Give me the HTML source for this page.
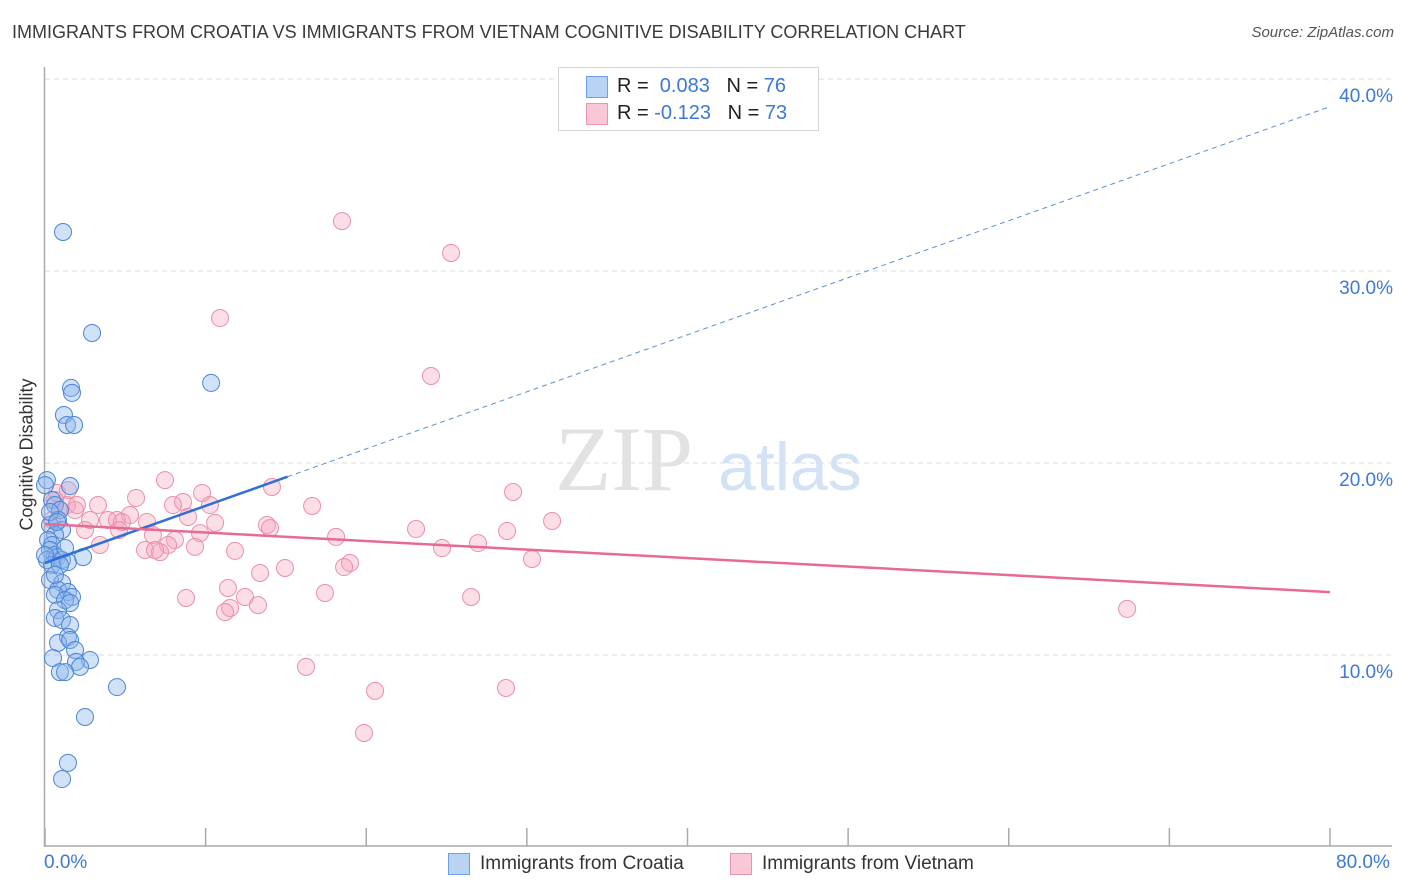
<!DOCTYPE html>
<html><head><meta charset="utf-8">
<style>
body{margin:0;background:#fff;font-family:"Liberation Sans",sans-serif;}
#wrap{position:relative;width:1406px;height:892px;overflow:hidden;}
.t{position:absolute;white-space:nowrap;}
</style></head>
<body>
<div id="wrap">
<div class="t" style="left:12px;top:22px;font-size:18px;color:#3a3a3a;">IMMIGRANTS FROM CROATIA VS IMMIGRANTS FROM VIETNAM COGNITIVE DISABILITY CORRELATION CHART</div>
<div class="t" style="right:12px;top:24px;font-size:15px;color:#555;font-style:italic;">Source: ZipAtlas.com</div>
<svg id="svg" width="1406" height="892" style="position:absolute;left:0;top:0"></svg>
</div>
<script>
const xTicks=[0,10,20,30,40,50,60,70,80];
const yTicks=[10,20,30,40];
const yTickLabels=["10.0%","20.0%","30.0%","40.0%"];
const croatiaX=[1.12,2.93,10.34,1.62,1.68,1.18,1.37,1.81,0.12,1.56,0.44,0.62,0.93,0.81,0.31,1.06,0.62,0.19,0.44,0.31,0.62,0.12,0.75,1.06,1.43,2.37,0.44,0.93,0.31,1.06,0.81,1.43,0.62,1.68,1.25,1.56,0.81,0.62,1.06,1.56,1.43,0.81,1.56,1.87,0.5,2.8,1.93,2.18,0.93,1.25,4.48,2.49,1.43,1.06,0,0.31,0.75,1.25,0,0.62];
const croatiaY=[32.03,26.77,24.17,23.91,23.65,22.5,21.98,21.98,19.11,18.8,18.07,17.81,17.55,17.03,16.77,16.51,16.25,15.99,15.73,15.47,15.21,14.95,15.1,14.95,14.84,15.1,14.69,14.69,13.91,13.75,13.39,13.28,13.13,13.02,12.86,12.71,12.34,11.93,11.82,11.56,10.94,10.63,10.78,10.26,9.84,9.74,9.64,9.38,9.11,9.11,8.33,6.77,4.38,3.54,18.85,17.45,16.93,15.57,15.21,14.17];
const vietnamX=[18.49,25.28,10.9,24.03,7.47,14.13,0.75,29.14,9.78,8.59,5.67,3.3,7.97,16.63,10.27,1.37,0.62,1.87,0.93,5.29,2.8,3.92,4.48,4.79,8.9,6.35,10.59,13.82,14.01,31.57,23.1,28.77,18.12,6.72,8.09,9.65,4.61,2.49,26.96,24.72,7.66,9.34,6.23,7.16,11.83,30.32,18.99,18.62,14.94,13.39,6.85,11.39,8.78,26.53,17.43,12.45,13.26,11.52,11.21,67.37,16.25,20.55,28.7,19.86,1.99,3.42,1.43,0.44];
const vietnamY=[32.6,30.94,27.55,24.53,19.11,18.75,18.44,18.49,18.44,17.97,18.18,17.81,17.81,17.76,17.81,17.81,18.07,17.55,17.55,17.29,17.03,17.03,17.03,16.93,17.19,16.93,16.88,16.77,16.61,16.98,16.56,16.46,16.15,16.25,15.99,16.35,16.51,16.51,15.83,15.57,15.73,15.63,15.47,15.36,15.42,15.0,14.79,14.58,14.53,14.27,15.47,13.49,12.97,13.02,13.23,13.02,12.6,12.45,12.24,12.4,9.38,8.13,8.28,5.94,17.81,15.73,18.59,17.03];
const croatiaTrend=[14.8,0.297]; // intercept, slope
const croatiaSolidEnd=15.1;
const vietnamTrend=[16.82,-0.0443];

const NS="http://www.w3.org/2000/svg";
const svg=document.getElementById('svg');
const X=v=>45+v*1285/80;
const Y=v=>847-v*19.2;
function mk(tag,attrs,parent){const e=document.createElementNS(NS,tag);for(const k in attrs)e.setAttribute(k,attrs[k]);(parent||svg).appendChild(e);return e;}

// grid
yTicks.forEach((v,i)=>{
  const g=mk('line',{x1:45,x2:1392,y1:Y(v),y2:Y(v),stroke:'#dcdcdc','stroke-dasharray':'5,4','stroke-width':1});
  
  
  const t=mk('text',{x:1393,y:Y(v)+23,'text-anchor':'end','font-size':19,fill:'#3b78d8','font-family':'Liberation Sans, sans-serif'});
  t.textContent=yTickLabels[i];
  
  
});
// axes
const ax=mk('line',{x1:44.5,x2:44.5,y1:67,y2:847,stroke:'#aaa','stroke-width':1.5});


const bx=mk('line',{x1:44,x2:1392,y1:846,y2:846,stroke:'#aaa','stroke-width':1.5});


xTicks.forEach(v=>{
  const l=mk('line',{x1:X(v),x2:X(v),y1:828,y2:846,stroke:'#aaa','stroke-width':1.5});
  
  
});
// watermark
const wm=mk('text',{x:555,y:490,'font-size':92,fill:'#e2e2e2','font-family':'Liberation Serif, serif'});
wm.textContent='ZIP';


const wm2=mk('text',{x:718,y:490,'font-size':68,fill:'#d3e2f5','font-family':'Liberation Sans, sans-serif'});
wm2.textContent='atlas';



// points
vietnamX.forEach((x,i)=>{
  const c=mk('circle',{cx:X(x),cy:Y(vietnamY[i]),r:8.5,fill:'rgba(245,160,185,0.35)',stroke:'#eb8fab','stroke-width':1});
  
  
});
croatiaX.forEach((x,i)=>{
  const c=mk('circle',{cx:X(x),cy:Y(croatiaY[i]),r:8.5,fill:'rgba(140,180,235,0.4)',stroke:'#4a86d8','stroke-width':1});
  
  
});
// trends
const cy=x=>croatiaTrend[0]+croatiaTrend[1]*x;
const t1=mk('line',{x1:X(0),y1:Y(cy(0)),x2:X(croatiaSolidEnd),y2:Y(cy(croatiaSolidEnd)),stroke:'#2f6fd6','stroke-width':2.5});


const t2=mk('line',{x1:X(croatiaSolidEnd),y1:Y(cy(croatiaSolidEnd)),x2:X(80),y2:Y(cy(80)),stroke:'#5b8fd8','stroke-width':1,'stroke-dasharray':'5,4'});


const vy=x=>vietnamTrend[0]+vietnamTrend[1]*x;
const t3=mk('line',{x1:X(0),y1:Y(vy(0)),x2:X(80),y2:Y(vy(80)),stroke:'#e86a92','stroke-width':2.5});


</script>

<div class="t" style="left:-48px;top:445px;font-size:18px;color:#333;transform:rotate(-90deg);width:150px;text-align:center;">Cognitive Disability</div>
<div class="t" style="left:44px;top:852px;font-size:19px;color:#3b78d8;">0.0%</div>
<div class="t" style="left:1336px;top:852px;font-size:19px;color:#3b78d8;">80.0%</div>

<div style="position:absolute;left:558px;top:67px;width:259px;height:62px;border:1px solid #d5d5d5;background:#fff;font-size:20px;">
  <div style="position:absolute;left:27px;top:8px;width:20px;height:20px;background:#b9d3f5;border:1px solid #6e9fe0;"></div>
  <div class="t" style="left:58px;top:7px;color:#222;">R = <span style="color:#3b78d8">&nbsp;0.083</span>&nbsp;&nbsp;&nbsp;N = <span style="color:#3b78d8">76</span></div>
  <div style="position:absolute;left:27px;top:35px;width:20px;height:20px;background:#f9c7d6;border:1px solid #e895ae;"></div>
  <div class="t" style="left:58px;top:34px;color:#222;">R = <span style="color:#3b78d8">-0.123</span>&nbsp;&nbsp;&nbsp;N = <span style="color:#3b78d8">73</span></div>
</div>

<div style="position:absolute;left:448px;top:853px;">
  <div style="position:absolute;left:0;top:0;width:20px;height:20px;background:#b9d3f5;border:1px solid #6e9fe0;"></div>
  <div class="t" style="left:32px;top:0;font-size:19px;color:#333;">Immigrants from Croatia</div>
</div>
<div style="position:absolute;left:730px;top:853px;">
  <div style="position:absolute;left:0;top:0;width:20px;height:20px;background:#f9c7d6;border:1px solid #e895ae;"></div>
  <div class="t" style="left:32px;top:0;font-size:19px;color:#333;">Immigrants from Vietnam</div>
</div>
</body></html>
